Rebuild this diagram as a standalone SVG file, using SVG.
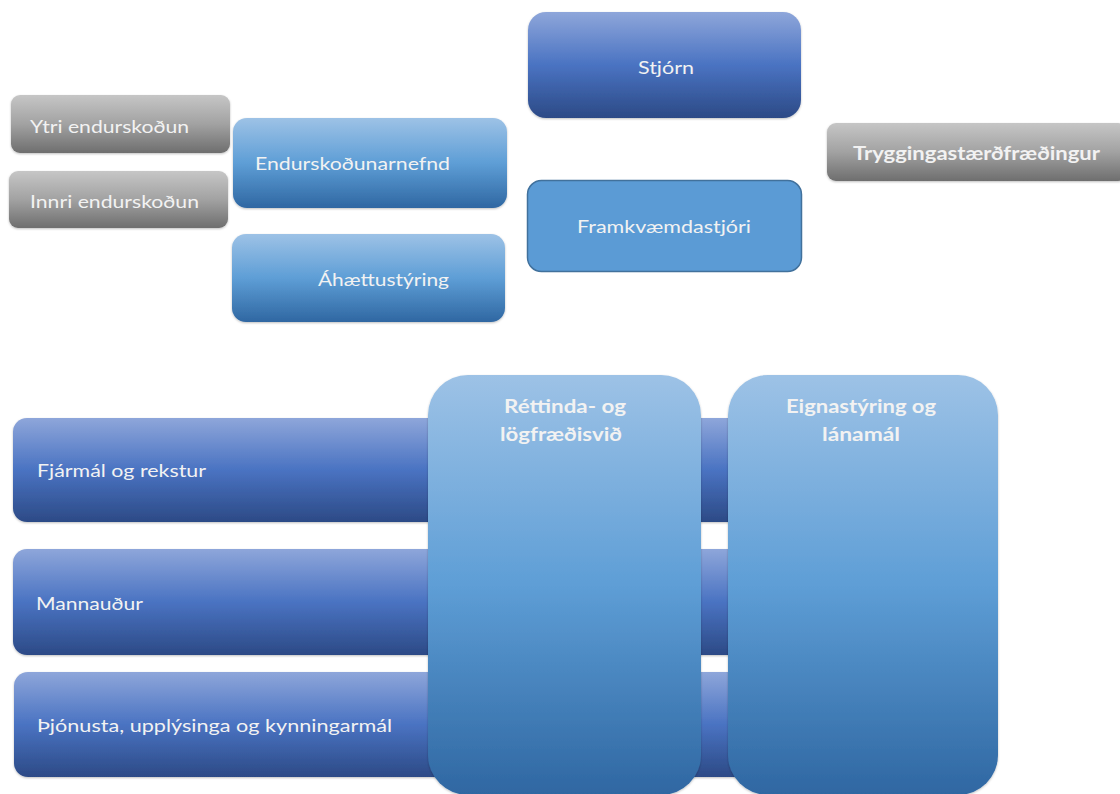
<svg xmlns="http://www.w3.org/2000/svg" width="1120" height="794" viewBox="0 0 1120 794">
<defs>
<linearGradient id="gDark" x1="0" y1="0" x2="0" y2="1">
<stop offset="0" stop-color="#8EA6DA"/>
<stop offset="0.5" stop-color="#4A73C2"/>
<stop offset="1" stop-color="#2C4A86"/>
</linearGradient>
<linearGradient id="gLight" x1="0" y1="0" x2="0" y2="1">
<stop offset="0" stop-color="#9DC2E6"/>
<stop offset="0.5" stop-color="#5E9ED6"/>
<stop offset="1" stop-color="#2F67A2"/>
</linearGradient>
<linearGradient id="gGray" x1="0" y1="0" x2="0" y2="1">
<stop offset="0" stop-color="#C6C6C6"/>
<stop offset="0.5" stop-color="#A2A2A2"/>
<stop offset="1" stop-color="#6E6E6E"/>
</linearGradient>
<filter id="sh" x="-5%" y="-5%" width="110%" height="115%">
<feDropShadow dx="0" dy="1" stdDeviation="1" flood-color="#000" flood-opacity="0.25"/>
</filter>
</defs>
<style>
text{font-family:"Lato","Open Sans","Liberation Sans",sans-serif;fill:#F2F2F2;font-size:18px}
.b{font-weight:bold}
.dark{fill:url(#gDark);filter:url(#sh)}
.light{fill:url(#gLight);filter:url(#sh)}
.gray{fill:url(#gGray);filter:url(#sh)}
</style>
<rect width="1120" height="794" fill="#FFFFFF"/>
<g id="connectors"></g>
<g id="stjorn"><rect class="dark" x="528" y="12" width="273" height="106" rx="18"/><text x="666" y="74" text-anchor="middle" font-size="19" textLength="56" lengthAdjust="spacingAndGlyphs">Stjórn</text></g>
<g id="framkvaemdastjori"><rect x="527.5" y="180.5" width="274" height="91" rx="14" fill="#5B9BD5" stroke="#41719C" stroke-width="1.5"/><text x="664" y="233" text-anchor="middle" textLength="174" lengthAdjust="spacingAndGlyphs">Framkvæmdastjóri</text></g>
<g id="tryggingastaerdfraedingur"><rect class="gray" x="827" y="123" width="300" height="58" rx="9"/><text class="b" x="853" y="160" textLength="247" lengthAdjust="spacingAndGlyphs">Tryggingastærðfræðingur</text></g>
<g id="ytri"><rect class="gray" x="11" y="95" width="219" height="58" rx="9"/><text x="30" y="133" textLength="159" lengthAdjust="spacingAndGlyphs">Ytri endurskoðun</text></g>
<g id="innri"><rect class="gray" x="9" y="171" width="219" height="57" rx="9"/><text x="30" y="208" textLength="169" lengthAdjust="spacingAndGlyphs">Innri endurskoðun</text></g>
<g id="endurskodunarnefnd"><rect class="light" x="233" y="118" width="274" height="90" rx="14"/><text x="255" y="170" textLength="195" lengthAdjust="spacingAndGlyphs">Endurskoðunarnefnd</text></g>
<g id="ahaettustyring"><rect class="light" x="232" y="234" width="273" height="88" rx="14"/><text x="318" y="286" textLength="131" lengthAdjust="spacingAndGlyphs">Áhættustýring</text></g>
<g id="fjarmal"><rect class="dark" x="13" y="418" width="760" height="104" rx="14"/><text x="37" y="477" textLength="169" lengthAdjust="spacingAndGlyphs">Fjármál og rekstur</text></g>
<g id="mannaudur"><rect class="dark" x="13" y="549" width="760" height="106" rx="14"/><text x="36" y="610" textLength="107" lengthAdjust="spacingAndGlyphs">Mannauður</text></g>
<g id="thjonusta"><rect class="dark" x="14" y="672" width="760" height="105" rx="14"/><text x="37" y="732" textLength="355" lengthAdjust="spacingAndGlyphs">Þjónusta, upplýsinga  og kynningarmál</text></g>
<g id="rettinda"><rect class="light" x="428" y="375" width="273" height="420" rx="40"/><text class="b" x="565" y="413" text-anchor="middle" textLength="122" lengthAdjust="spacingAndGlyphs">Réttinda- og</text><text class="b" x="561" y="441" text-anchor="middle" textLength="122" lengthAdjust="spacingAndGlyphs">lögfræðisvið</text></g>
<g id="eignastyring"><rect class="light" x="728" y="375" width="270" height="420" rx="40"/><text class="b" x="861" y="413" text-anchor="middle" textLength="150" lengthAdjust="spacingAndGlyphs">Eignastýring og</text><text class="b" x="861" y="441" text-anchor="middle" textLength="78" lengthAdjust="spacingAndGlyphs">lánamál</text></g>
</svg>
